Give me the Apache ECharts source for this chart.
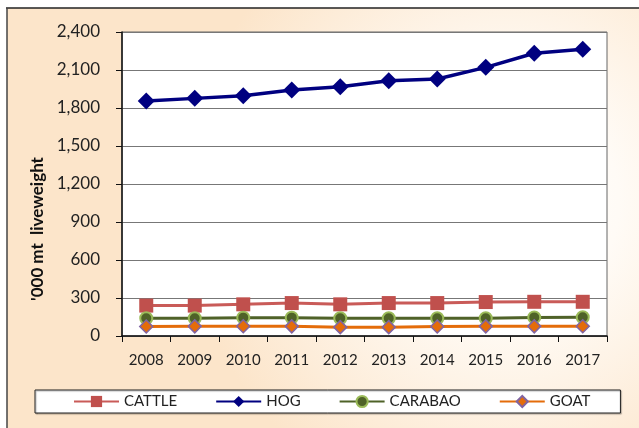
<!DOCTYPE html>
<html lang="en">
<head>
<meta charset="UTF-8">
<title>Livestock production</title>
<script src="https://cdn.jsdelivr.net/npm/echarts@6/dist/echarts.min.js"></script>
<style>
    html, body { margin: 0; padding: 0; background: #fff; }
    #chart { width: 639px; height: 428px; }
</style>
</head>
<body>
<div id="chart"></div>
<script>
// values, '000 mt liveweight
var years = ['2008', '2009', '2010', '2011', '2012', '2013', '2014', '2015', '2016', '2017'];
var cattle = [240, 240, 250, 260, 250, 260, 260, 268, 270, 270];
var hog = [1855, 1876, 1897, 1942, 1968, 2016, 2029, 2121, 2232, 2263];
var carabao = [140, 140, 145, 145, 140, 140, 140, 140, 147, 148];
var goat = [75, 76, 77, 76, 70, 70, 75, 76, 76, 77];

var font = 'Lato, "Open Sans", sans-serif';

var chart = echarts.init(document.getElementById('chart'));
var option = {
    animation: false,
    backgroundColor: '#fff',
    graphic: [
        {
            type: 'rect',
            z: -10,
            shape: { x: 7, y: 8, width: 640, height: 430 },
            style: {
                fill: new echarts.graphic.RadialGradient(0.78, 0.45, 0.75, [
                    { offset: 0, color: '#ffffff' },
                    { offset: 0.35, color: '#fffbf6' },
                    { offset: 1, color: '#fce5ca' }
                ])
            }
        },
        { type: 'line', z: -9, shape: { x1: 6, y1: 8, x2: 639, y2: 8 }, style: { stroke: '#222', lineWidth: 1.5 } },
        { type: 'line', z: -9, shape: { x1: 7, y1: 8, x2: 7, y2: 428 }, style: { stroke: '#444', lineWidth: 1.5 } }
    ],
    grid: {
        left: 122,
        right: 32,
        top: 32,
        bottom: 92,
        show: true,
        backgroundColor: '#fff',
        borderColor: '#666',
        borderWidth: 1
    },
    legend: {
        left: 35,
        top: 390,
        width: 580,
        padding: [4, 30, 4, 38],
        itemGap: 38,
        itemWidth: 45,
        itemHeight: 14,
        backgroundColor: '#fff',
        borderColor: '#222',
        borderWidth: 1,
        shadowColor: 'rgba(0,0,0,0.3)',
        shadowOffsetX: 1,
        shadowOffsetY: 1,
        shadowBlur: 1,
        textStyle: { fontFamily: font, fontSize: 15, color: '#222' },
        data: ['CATTLE', 'HOG', 'CARABAO', 'GOAT']
    },
    xAxis: {
        type: 'category',
        data: years,
        boundaryGap: true,
        axisLine: { lineStyle: { color: '#111', width: 1.5 } },
        axisTick: { show: true, length: 6, lineStyle: { color: '#111' } },
        axisLabel: { fontFamily: font, fontSize: 15, color: '#222', margin: 17 },
        splitLine: { show: false }
    },
    yAxis: {
        type: 'value',
        min: 0,
        max: 2400,
        interval: 300,
        name: "'000 mt  liveweight",
        nameLocation: 'middle',
        nameGap: 76,
        nameTextStyle: {
            fontFamily: font, fontSize: 17, fontWeight: 'bold', color: '#111',
            padding: [0, 90, 0, 0]
        },
        axisLine: { show: true, lineStyle: { color: '#111', width: 1.5 } },
        axisTick: { show: true, length: 6, lineStyle: { color: '#111' } },
        axisLabel: {
            fontFamily: font, fontSize: 17, color: '#222', margin: 22,
            formatter: function (v) { return v.toLocaleString('en-US'); }
        },
        splitLine: { show: true, lineStyle: { color: '#777', width: 1.2 } }
    },
    series: [
        {
            name: 'CATTLE', type: 'line', data: cattle,
            symbol: 'rect', symbolSize: 14,
            lineStyle: { color: '#c95b58', width: 3 },
            itemStyle: { color: '#c0504d' }
        },
        {
            name: 'HOG', type: 'line', data: hog,
            symbol: 'diamond', symbolSize: 17,
            lineStyle: { color: '#000080', width: 3.5 },
            itemStyle: { color: '#000080' }
        },
        {
            name: 'CARABAO', type: 'line', data: carabao,
            symbol: 'circle', symbolSize: 12,
            lineStyle: { color: '#4f6228', width: 3 },
            itemStyle: { color: '#4f6228', borderColor: '#9bbb59', borderWidth: 2 }
        },
        {
            name: 'GOAT', type: 'line', data: goat,
            symbol: 'diamond', symbolSize: 13,
            lineStyle: { color: '#e46c0a', width: 3 },
            itemStyle: { color: '#e46c0a', borderColor: '#8064a2', borderWidth: 1.5 }
        }
    ]
};
chart.setOption(option);
</script>
</body>
</html>
